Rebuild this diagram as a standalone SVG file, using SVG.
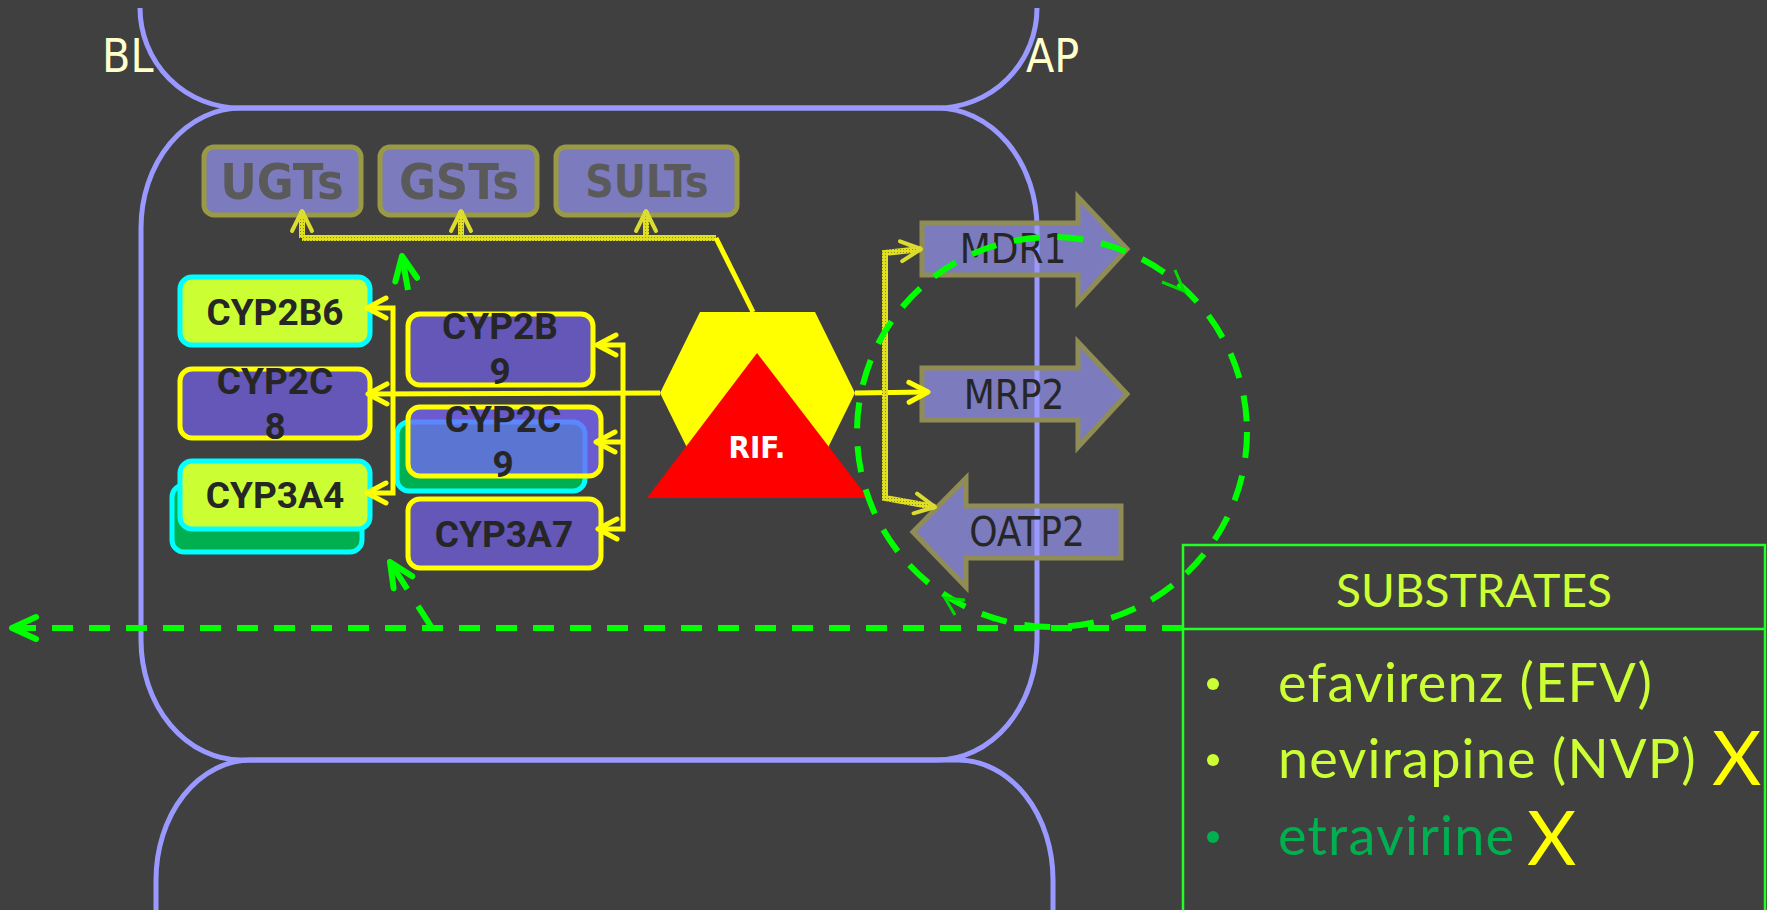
<svg xmlns="http://www.w3.org/2000/svg" width="1767" height="910" viewBox="0 0 1767 910">
<style>
.cell{fill:none;stroke:#9999ff;stroke-width:5}
.lbl{font-family:"Liberation Sans Narrow","DejaVu Sans Condensed","Liberation Sans",sans-serif;fill:#ffffcc;font-size:46px}
.enz{fill:#9999ff;fill-opacity:.66;stroke:#9a9a45;stroke-width:5}
.enzt{font-family:"Liberation Sans Narrow","DejaVu Sans Condensed","Liberation Sans",sans-serif;font-weight:bold;fill:#5a5a5a;text-anchor:middle}
.cyp{font-family:Roboto,"Liberation Sans",sans-serif;font-weight:bold;font-size:37px;fill:#262626;text-anchor:middle}
.lime{fill:#ccff33;stroke:#00ffff;stroke-width:5}
.grn{fill:#00b050;stroke:#00ffff;stroke-width:5}
.pur{fill:#6557b8;stroke:#ffff00;stroke-width:5}
.tr{fill:#9999ff;fill-opacity:.66;stroke:#8f8d55;stroke-width:5;stroke-linejoin:miter}
.trt{font-family:"Liberation Sans Narrow","DejaVu Sans Condensed","Liberation Sans",sans-serif;font-size:40px;fill:#262626;text-anchor:middle}
.ys{fill:none;stroke:#ffff00;stroke-width:5}
.yh{fill:none;stroke:url(#hatch);stroke-width:6}
.gd{fill:none;stroke:#00ff00;stroke-width:6}
.sub{font-family:Lato,"Liberation Sans",sans-serif;font-weight:normal}
</style>
<defs>
<pattern id="hatch" width="3" height="3" patternUnits="userSpaceOnUse"><rect width="3" height="3" fill="#e0e020"/><rect width="1" height="1" fill="#8a8a20"/></pattern>
<marker id="ay" viewBox="-25 -14 30 28" markerWidth="30" markerHeight="28" refX="0" refY="0" orient="auto-start-reverse" markerUnits="userSpaceOnUse"><path d="M-19,-10 L0,0 L-19,10" fill="none" stroke="#ffff00" stroke-width="5" stroke-linecap="round" stroke-linejoin="round"/></marker>
<marker id="ah" viewBox="-25 -14 30 28" markerWidth="30" markerHeight="28" refX="0" refY="0" orient="auto-start-reverse" markerUnits="userSpaceOnUse"><path d="M-20,-10 L0,0 L-20,10" fill="none" stroke="#dcdc30" stroke-width="4" stroke-linecap="round" stroke-linejoin="round"/></marker>
<marker id="ag" viewBox="-32 -16 36 32" markerWidth="36" markerHeight="32" refX="0" refY="0" orient="auto" markerUnits="userSpaceOnUse"><path d="M-24,-11 L0,0 L-24,11" fill="none" stroke="#00ff00" stroke-width="6" stroke-linecap="round" stroke-linejoin="round"/></marker>
</defs>
<rect width="1767" height="910" fill="#404040"/>

<g id="cells">
<path class="cell" d="M140,8 A100,100 0 0 0 240,108 L937,108 A100,100 0 0 0 1037,8"/>
<rect class="cell" x="141" y="108" width="896" height="652" rx="100" ry="120"/>
<path class="cell" d="M156,912 L156,880 A95,120 0 0 1 251,760 L958,760 A95,120 0 0 1 1053,880 L1053,912"/>
<text class="lbl" x="102" y="72">BL</text>
<text class="lbl" x="1026" y="72">AP</text>
</g>

<g id="node-UGTs"><rect class="enz" x="204" y="147" width="157" height="68" rx="10"/><text class="enzt" x="282" y="199" font-size="50">UGTs</text></g>
<g id="node-GSTs"><rect class="enz" x="380" y="147" width="157" height="68" rx="10"/><text class="enzt" x="459" y="199" font-size="50">GSTs</text></g>
<g id="node-SULTs"><rect class="enz" x="556" y="147" width="181" height="68" rx="10"/><text class="enzt" x="647" y="197" font-size="44">SULTs</text></g>

<g id="node-CYP2B6"><rect class="lime" x="180" y="277" width="190" height="68" rx="12"/><text class="cyp" x="275" y="325">CYP2B6</text></g>
<g id="node-CYP2C8"><rect class="pur" x="180" y="369" width="190" height="69" rx="12"/><text class="cyp" x="275" y="394">CYP2C</text><text class="cyp" x="275" y="439">8</text></g>
<g id="node-CYP3A4"><rect class="grn" x="172" y="485" width="190" height="67" rx="12"/><rect class="lime" x="180" y="461" width="190" height="68" rx="12"/><text class="cyp" x="275" y="508">CYP3A4</text></g>
<g id="node-CYP2B9"><rect class="pur" x="408" y="314" width="185" height="71" rx="12"/><text class="cyp" x="500" y="339">CYP2B</text><text class="cyp" x="500" y="384">9</text></g>
<g id="node-CYP2C9"><rect class="grn" x="397" y="422" width="188" height="69" rx="12"/><rect x="408" y="407" width="193" height="69" rx="12" fill="#7763fb" fill-opacity=".77" stroke="#ffff00" stroke-width="5"/><text class="cyp" x="503" y="432">CYP2C</text><text class="cyp" x="503" y="477">9</text></g>
<g id="node-CYP3A7"><rect class="pur" x="408" y="499" width="193" height="69" rx="12"/><text class="cyp" x="504" y="547">CYP3A7</text></g>

<g id="node-MDR1"><polygon class="tr" points="922,223 1078,223 1078,197 1127,249 1078,302 1078,275 922,275"/><text class="trt" x="1013" y="263">MDR1</text></g>
<g id="node-MRP2"><polygon class="tr" points="922,368 1078,368 1078,342 1127,394 1078,447 1078,420 922,420"/><text class="trt" x="1014" y="409">MRP2</text></g>
<g id="node-OATP2"><polygon class="tr" points="1121,506 966,506 966,478 913,532 966,587 966,558 1121,558"/><text class="trt" x="1027" y="546">OATP2</text></g>

<g id="node-RIF">
<polygon points="700,312 815,312 855,393 815,474 700,474 660,393" fill="#ffff00"/>
<polygon points="757,353 868,498 647,498" fill="#ff0000"/>
<text x="757" y="458" font-family="Liberation Sans Narrow,DejaVu Sans Condensed,Liberation Sans,sans-serif" font-weight="bold" font-size="31" fill="#ffffff" text-anchor="middle">RIF.</text>
</g>

<g id="connectors">
<path class="yh" d="M716,238 L302,238"/>
<path class="yh" d="M302,238 L302,211" stroke-width="5" marker-end="url(#ah)"/>
<path class="yh" d="M461,238 L461,211" stroke-width="5" marker-end="url(#ah)"/>
<path class="yh" d="M646,238 L646,211" stroke-width="5" marker-end="url(#ah)"/>
<path class="ys" stroke-width="4" d="M716,238 L753,312"/>
<path class="ys" d="M660,393 L368,394" marker-end="url(#ay)"/>
<path class="ys" d="M367,308 L393,308 L393,493 L367,493" marker-start="url(#ay)" marker-end="url(#ay)"/>
<path class="ys" d="M597,345 L623,345 L623,529 L598,529" marker-start="url(#ay)" marker-end="url(#ay)"/>
<path class="ys" d="M623,442 L596,442" marker-end="url(#ay)"/>
<path class="ys" d="M855,393 L928,392" marker-end="url(#ay)"/>
<path class="yh" stroke-width="5" d="M921,249 L885,253 L885,498 L935,507" marker-start="url(#ah)" marker-end="url(#ah)"/>
<circle class="gd" cx="1052" cy="432" r="195" stroke-width="8" stroke-dasharray="26 18"/>
<polyline points="1162,282 1184,291 1175,270" fill="none" stroke="#00dd00" stroke-width="3"/>
<polyline points="965,600 945,598 955,615" fill="none" stroke="#00dd00" stroke-width="3"/>
<path class="gd" d="M1183,628 L12,628" stroke-dasharray="21 16" marker-end="url(#ag)"/>
<path class="gd" d="M432,628 L390,562" stroke-dasharray="26 20" marker-end="url(#ag)"/>
<path class="gd" d="M408,290 L402,256" marker-end="url(#ag)"/>
</g>

<g id="substrates">
<rect x="1183" y="545" width="582" height="375" fill="none" stroke="#22ff22" stroke-width="2.5"/>
<line x1="1183" y1="629" x2="1765" y2="629" stroke="#22ff22" stroke-width="2.5"/>
<text class="sub" x="1474" y="607" font-size="46" fill="#ccff33" text-anchor="middle">SUBSTRATES</text>
<circle cx="1213" cy="684" r="6" fill="#ccff33"/>
<circle cx="1213" cy="760" r="6" fill="#ccff33"/>
<circle cx="1213" cy="837" r="6" fill="#00b050"/>
<text class="sub" x="1278" y="702" font-size="54" letter-spacing="1.2" fill="#ccff33">efavirenz (EFV)</text>
<text class="sub" x="1278" y="778" font-size="54" letter-spacing="1.2" fill="#ccff33">nevirapine (NVP)</text>
<text class="sub" x="1278" y="855" font-size="54" letter-spacing="1.2" fill="#00b050">etravirine</text>
<text class="sub" x="1712" y="785" font-size="76" fill="#ffff00">X</text>
<text class="sub" x="1527" y="865" font-size="76" fill="#ffff00">X</text>
</g>
</svg>
